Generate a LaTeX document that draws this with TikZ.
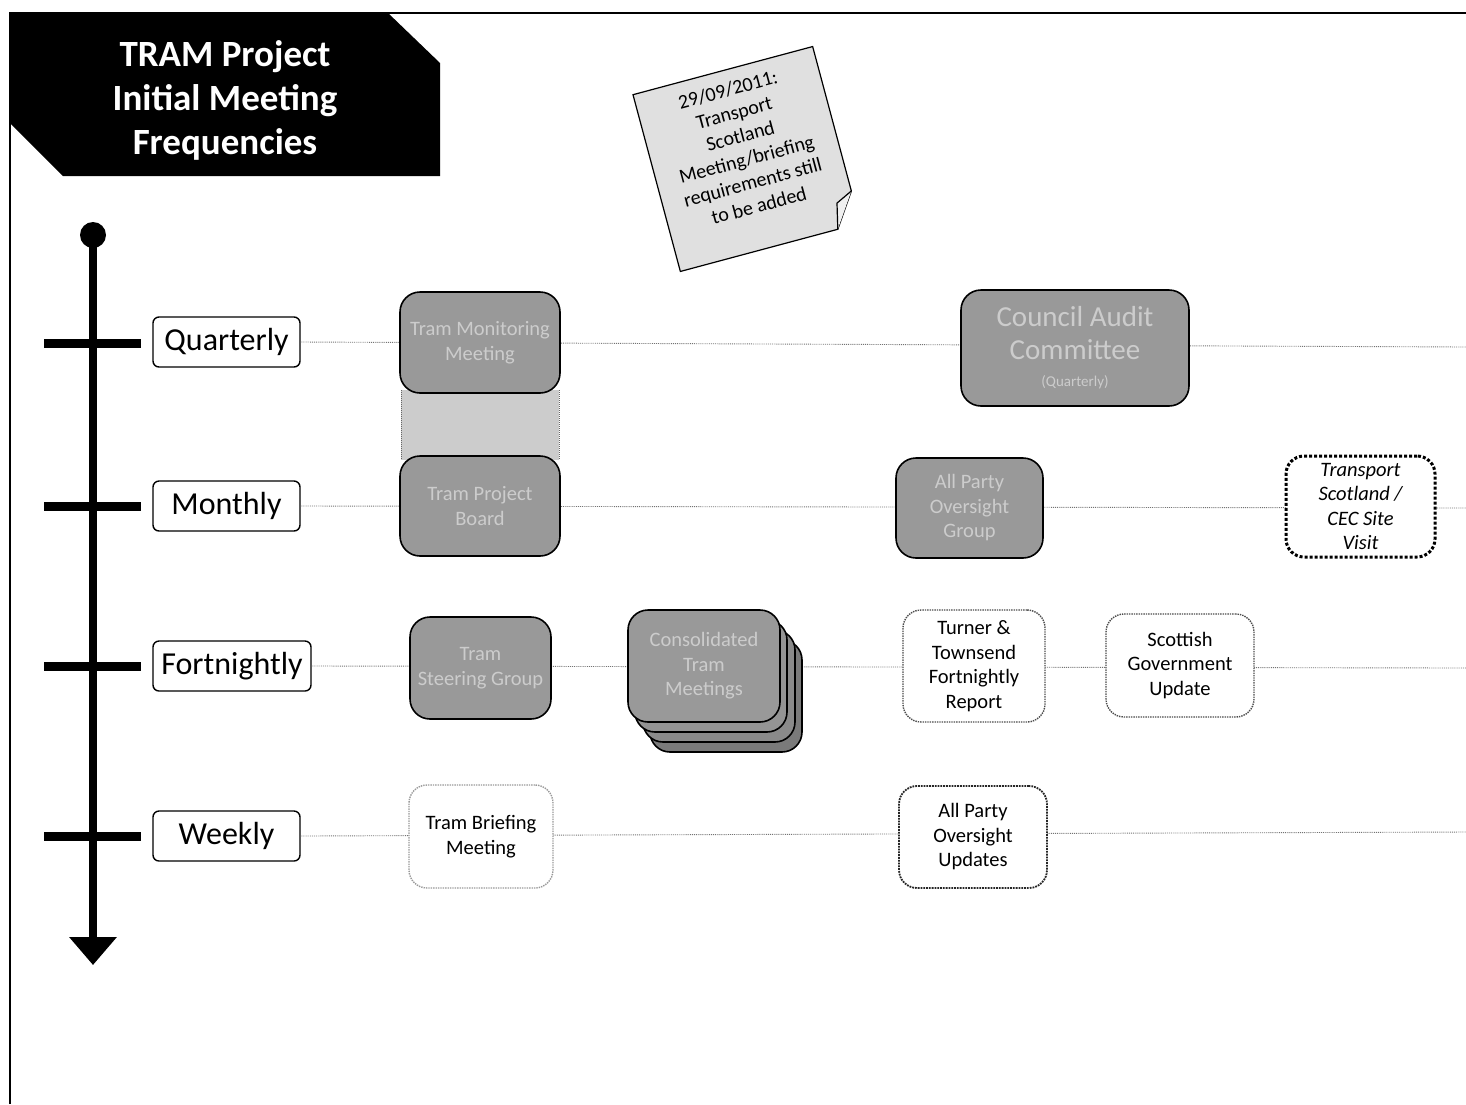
\documentclass[tikz,border=0pt]{standalone}
\usepackage{fontspec}
\setmainfont{Carlito}
\usetikzlibrary{arrows.meta}
\tikzset{
  lbl/.style={draw=black, line width=1.4, rounded corners=6, inner sep=0, font=\fontsize{32}{36}\selectfont},
  gbox/.style={draw=black, line width=1.6, rounded corners=20, fill=black!40, text=white!80!black, align=center, inner sep=0, font=\fontsize{20.5}{24.5}\selectfont},
  dbox/.style={draw=black, line width=1.6, rounded corners=20, fill=black!52, inner sep=0},
  wbox/.style={draw=black!70, densely dotted, line width=1.4, rounded corners=18, fill=white, align=center, inner sep=0, font=\fontsize{20.5}{24.5}\selectfont},
  rowline/.style={draw=black!55, densely dotted, line width=0.9},
  tick/.style={line width=9},
}
\begin{document}
\begin{tikzpicture}[x=1pt,y=-1pt]
\useasboundingbox (0,0) rectangle (1466,1104);
% frame
\draw[line width=1.4] (10,1104) -- (10,13) -- (1466,13);
% title
\fill[black] (10,13) -- (388,13) -- (440,63) -- (440,176) -- (63,176) -- (10,123) -- cycle;
\node[text=white, align=center, font=\fontsize{37}{44}\selectfont\bfseries] (title) at (225,100) {TRAM Project\\Initial Meeting\\Frequencies};
% timeline
\node[circle, fill=black, minimum size=26, inner sep=0] (tdot) at (93,235) {};
\coordinate (tbot) at (93,965);
\draw[line width=8, -{Triangle[width=46pt,length=28pt]}] (tdot.center) -- (tbot);
\draw[tick] (44,343) -- (141,343);
\draw[tick] (44,506) -- (141,506);
\draw[tick] (44,666) -- (141,666);
\draw[tick] (44,836) -- (141,836);
% labels
\node[lbl, minimum width=147, minimum height=50] (lq) at (226.5,342) {Quarterly};
\node[lbl, minimum width=147, minimum height=50] (lm) at (226.5,506) {Monthly};
\node[lbl, minimum width=158, minimum height=50] (lf) at (232,666) {Fortnightly};
\node[lbl, minimum width=147, minimum height=50] (lw) at (226.5,836) {Weekly};
% row lines
\coordinate (eq) at (1466,347);
\coordinate (em) at (1466,508);
\coordinate (ef) at (1466,668);
\coordinate (ew) at (1466,832);
\draw[rowline] (lq.east) -- (eq);
\draw[rowline] (lm.east) -- (em);
\draw[rowline] (lf.east) -- (ef);
\draw[rowline] (lw.east) -- (ew);
% band between quarterly and monthly boxes
\fill[black!20] (401,390) rectangle (559,460);
\draw[black!60, densely dotted, line width=1] (401,390) -- (401,460) (559,390) -- (559,460);
% quarterly
\node[gbox, minimum width=160, minimum height=101] (qa) at (480,342.5) {Tram Monitoring\\Meeting};
\node[gbox, minimum width=228, minimum height=116, font=\fontsize{29}{33}\selectfont] (qb) at (1075,348) {Council Audit\\Committee\\[-6pt]{\fontsize{15}{16}\selectfont (Quarterly)}};
% monthly
\node[gbox, minimum width=160, minimum height=100] (ma) at (480,506) {Tram Project\\Board};
\node[gbox, minimum width=147, minimum height=100] (mb) at (969.5,508) {All Party\\Oversight\\Group};
\node[draw=black, line width=3, dotted, rounded corners=18, fill=white, align=center, inner sep=0, minimum width=149, minimum height=101, font=\fontsize{20.5}{24.5}\selectfont\itshape] (mc) at (1360.5,506.5) {Transport\\Scotland /\\CEC Site\\Visit};
% fortnightly
\node[gbox, minimum width=141, minimum height=102] (fa) at (480.5,668) {Tram\\Steering Group};
\node[dbox, minimum width=152, minimum height=112] (fs3) at (726,696) {};
\node[dbox, minimum width=152, minimum height=112, fill=black!46] (fs2) at (719,686) {};
\node[dbox, minimum width=152, minimum height=112, fill=black!42] (fs1) at (711,676) {};
\node[gbox, minimum width=152, minimum height=112] (fs) at (704,666) {Consolidated\\Tram\\Meetings};
\node[wbox, minimum width=142, minimum height=112] (fc) at (974,666) {Turner \&\\Townsend\\Fortnightly\\Report};
\node[wbox, minimum width=148, minimum height=103] (fd) at (1180,665.5) {Scottish\\Government\\Update};
% weekly
\node[wbox, draw=black!40, minimum width=144, minimum height=103] (wa) at (481,836.5) {Tram Briefing\\Meeting};
\node[wbox, draw=black!85, line width=1.8, minimum width=148, minimum height=102] (wb) at (973,837) {All Party\\Oversight\\Updates};
% sticky note
\begin{scope}[shift={(746.5,159)}, rotate=15]
  \filldraw[fill=black!12, draw=black, line width=1.2] (-93,-91.5) -- (93,-91.5) -- (93,58) -- (70,91.5) -- (-93,91.5) -- cycle;
  \filldraw[fill=black!6, draw=black, line width=1.2] (93,58) -- (76,66) -- (70,91.5);
  \node[align=center, transform shape, font=\fontsize{20}{24}\selectfont, inner sep=0] (note) at (0,-12) {29/09/2011:\\Transport\\Scotland\\Meeting/briefing\\requirements still\\to be added};
\end{scope}
\end{tikzpicture}
\end{document}
